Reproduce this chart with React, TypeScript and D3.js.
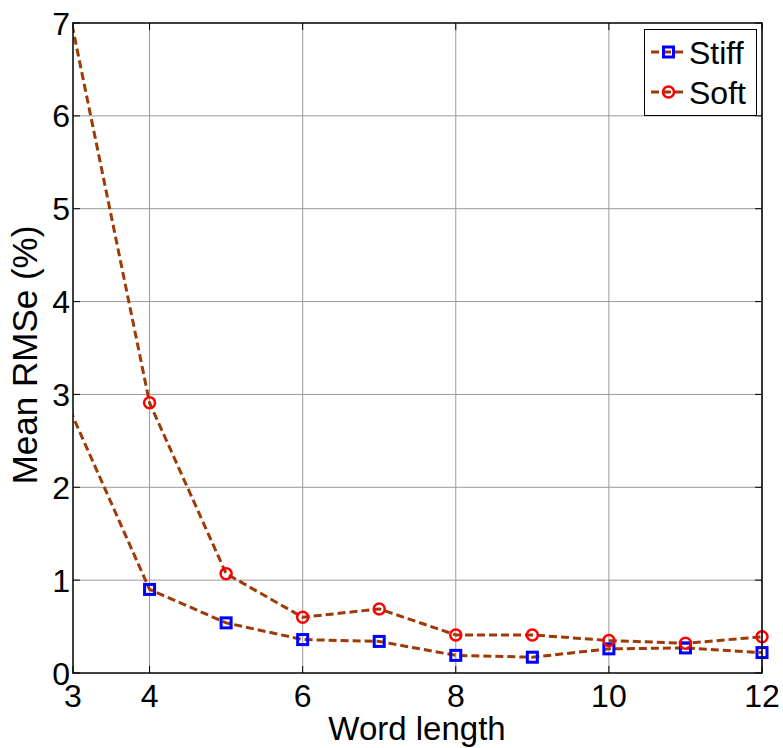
import React from "react";
import * as d3 from "d3";

const wordLength = [2, 3, 4, 5, 6, 7, 8, 9, 10, 11, 12];
const stiff = [4.6, 2.76, 0.9, 0.54, 0.36, 0.34, 0.19, 0.17, 0.26, 0.27, 0.22];
const soft = [10.9, 6.93, 2.91, 1.07, 0.6, 0.69, 0.41, 0.41, 0.35, 0.32, 0.39];
const xTicks = [3, 4, 6, 8, 10, 12];
const xGrid = [4, 6, 8, 10, 12];
const yTicks = [0, 1, 2, 3, 4, 5, 6, 7];
const seriesNames = ["Stiff", "Soft"];

const W = 783, H = 748;
const L = 73, R = 762, T = 23, B = 673;
const LINE = "#9e3a06";
const FONT = "Liberation Sans, Arial, sans-serif";
const FS = 32;

export default function App() {
  const x = d3.scaleLinear().domain([3, 12]).range([L, R]);
  const y = d3.scaleLinear().domain([0, 7]).range([B, T]);
  const line = d3.line<number>().x((_, i) => x(wordLength[i])).y((d) => y(d));
  const vis = (i: number) => wordLength[i] > 3 && wordLength[i] <= 12;
  const tl = 7;
  return (
    <svg width={W} height={H} style={{ position: "absolute", left: 0, top: 0, background: "#fff" }} fontFamily={FONT}>
      <defs>
        <clipPath id="plot"><rect x={L} y={T} width={R - L} height={B - T} /></clipPath>
      </defs>
      <rect x={0} y={0} width={W} height={H} fill="#fff" />
      {xGrid.map((t) => (
        <line key={"gx" + t} x1={x(t)} x2={x(t)} y1={T} y2={B} stroke="#9a9a9a" strokeWidth={1} />
      ))}
      {yTicks.slice(1, -1).map((t) => (
        <line key={"gy" + t} x1={L} x2={R} y1={y(t)} y2={y(t)} stroke="#9a9a9a" strokeWidth={1} />
      ))}
      {xTicks.map((t) => (
        <g key={"tx" + t}>
          <line x1={x(t)} x2={x(t)} y1={B} y2={B - tl} stroke="#000" />
          <line x1={x(t)} x2={x(t)} y1={T} y2={T + tl} stroke="#000" />
          <text x={x(t)} y={707} textAnchor="middle" fontSize={FS}>{t}</text>
        </g>
      ))}
      {yTicks.map((t) => (
        <g key={"ty" + t}>
          <line x1={L} x2={L + tl} y1={y(t)} y2={y(t)} stroke="#000" />
          <line x1={R} x2={R - tl} y1={y(t)} y2={y(t)} stroke="#000" />
          <text x={70} y={y(t) + 11.5} textAnchor="end" fontSize={FS}>{t}</text>
        </g>
      ))}
      <g clipPath="url(#plot)">
        <path d={line(stiff) || ""} fill="none" stroke={LINE} strokeWidth={3} strokeDasharray="8,4" />
        <path d={line(soft) || ""} fill="none" stroke={LINE} strokeWidth={3} strokeDasharray="8,4" />
      </g>
      {stiff.map((v, i) => vis(i) ? (
        <rect key={"s" + i} x={x(wordLength[i]) - 5} y={y(v) - 5} width={10} height={10} fill="none" stroke="#0000ff" strokeWidth={3} />
      ) : null)}
      {soft.map((v, i) => vis(i) ? (
        <circle key={"c" + i} cx={x(wordLength[i])} cy={y(v)} r={5.5} fill="none" stroke="#ff0000" strokeWidth={2.5} />
      ) : null)}
      <rect x={L} y={T} width={R - L} height={B - T} fill="none" stroke="#000" strokeWidth={1.5} />
      <g>
        <rect x={644.5} y={29.5} width={112} height={86} fill="#fff" stroke="#000" strokeWidth={1} />
        {seriesNames.map((n, i) => {
          const cy = 52 + i * 40;
          return (
            <g key={n}>
              <line x1={651} x2={686} y1={cy} y2={cy} stroke={LINE} strokeWidth={3} strokeDasharray="8,4" />
              {i === 0 ? (
                <rect x={663.5} y={cy - 5} width={10} height={10} fill="none" stroke="#0000ff" strokeWidth={3} />
              ) : (
                <circle cx={668.5} cy={cy} r={5.5} fill="none" stroke="#ff0000" strokeWidth={2.5} />
              )}
              <text x={689} y={cy + 11.5} fontSize={FS}>{n}</text>
            </g>
          );
        })}
      </g>
      <text x={417} y={740} textAnchor="middle" fontSize={33}>Word length</text>
      <text transform={`translate(37,355) rotate(-90)`} textAnchor="middle" fontSize={35}>Mean RMSe (%)</text>
    </svg>
  );
}
